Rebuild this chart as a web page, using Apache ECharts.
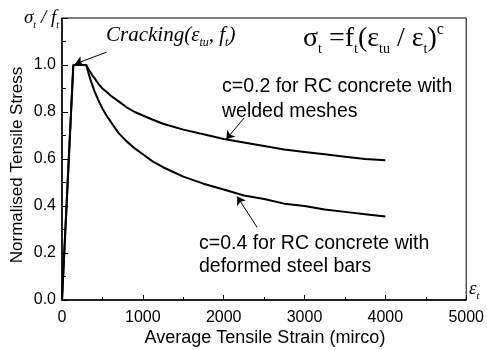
<!DOCTYPE html>
<html><head><meta charset="utf-8">
<script src="https://cdn.jsdelivr.net/npm/echarts@6/dist/echarts.min.js"></script>
<style>html,body{margin:0;padding:0;background:#fff}#c{width:487px;height:350px}</style>
</head><body><div id="c"></div>
<script>
// Data
const strain = [0, 140, 300, 325, 350, 375, 400, 450, 500, 550, 600, 700, 800, 900, 1000, 1125, 1250, 1500, 1750, 2000, 2250, 2500, 2750, 3000, 3250, 3500, 3750, 4000];
const stressWelded = [0, 1.0, 1.0, 0.984, 0.97, 0.956, 0.945, 0.92, 0.90, 0.886, 0.87, 0.845, 0.82, 0.80, 0.785, 0.767, 0.75, 0.725, 0.705, 0.685, 0.67, 0.655, 0.64, 0.63, 0.62, 0.61, 0.60, 0.595];
const stressDeformed = [0, 1.0, 1.0, 0.968, 0.94, 0.915, 0.89, 0.85, 0.815, 0.785, 0.76, 0.71, 0.675, 0.645, 0.62, 0.589, 0.565, 0.525, 0.495, 0.47, 0.445, 0.43, 0.41, 0.40, 0.385, 0.375, 0.365, 0.355];
const xTickLabels = ['0', '1000', '2000', '3000', '4000', '5000'];
const yTickLabels = ['0.0', '0.2', '0.4', '0.6', '0.8', '1.0', ''];

const chart = echarts.init(document.getElementById('c'), null, {renderer: 'canvas'});
const sans = 'Liberation Sans, Arial, sans-serif';
const serif = 'Liberation Serif, Times New Roman, serif';
const pair = (xs, ys) => xs.map((x, i) => [x, ys[i]]);
const arrow = (a, b) => [{coord: a, symbol: 'none'}, {coord: b, symbol: 'arrow'}];

const serRich = {
  a: {fontSize: 28, fontFamily: serif, fill: '#000', lineHeight: 34, verticalAlign: 'middle'},
  s: {fontSize: 14, fontFamily: serif, fill: '#000', verticalAlign: 'bottom', lineHeight: 16},
  p: {fontSize: 16, fontFamily: serif, fill: '#000', verticalAlign: 'top', lineHeight: 16}
};
const itRich = (fs) => ({
  a: {fontSize: fs, fontFamily: serif, fontStyle: 'italic', fill: '#000', lineHeight: fs + 6, verticalAlign: 'middle'},
  s: {fontSize: Math.round(fs * 0.55), fontFamily: serif, fontStyle: 'italic', fill: '#000', verticalAlign: 'bottom', lineHeight: Math.round(fs * 0.6)}
});
const note = {fontSize: 19.5, fontFamily: sans, fill: '#000'};

chart.setOption({
  animation: false,
  grid: {left: 62, right: 19, top: 18, bottom: 50, show: true, borderColor: '#000', borderWidth: 1},
  xAxis: {
    type: 'value', min: 0, max: 5000, interval: 1000,
    axisLine: {lineStyle: {color: '#000', width: 1.5}},
    axisTick: {inside: true, length: 5, lineStyle: {color: '#000'}},
    minorTick: {show: true, splitNumber: 2, length: 3, lineStyle: {color: '#000'}},
    splitLine: {show: false},
    axisLabel: {color: '#000', fontSize: 16, fontFamily: sans, margin: 10,
      formatter: (v) => xTickLabels[Math.round(v / 1000)]}
  },
  yAxis: {
    type: 'value', min: 0, max: 1.2, interval: 0.2,
    axisLine: {show: true, lineStyle: {color: '#000', width: 1.5}},
    axisTick: {show: true, inside: true, length: 6, lineStyle: {color: '#000'}},
    minorTick: {show: true, splitNumber: 2, length: 4, lineStyle: {color: '#000'}},
    splitLine: {show: false},
    axisLabel: {color: '#000', fontSize: 16, fontFamily: sans, margin: 6,
      formatter: (v) => yTickLabels[Math.round(v / 0.2)]}
  },
  series: [
    {type: 'line', data: pair(strain, stressWelded), showSymbol: false, symbol: 'none',
      lineStyle: {color: '#000', width: 2},
      markLine: {silent: true, symbolSize: 8, label: {show: false},
        lineStyle: {color: '#000', width: 1, type: 'solid'},
        data: [arrow([554, 1.055], [160, 1.004]), arrow([2254, 0.775], [2032, 0.684]), arrow([2414, 0.309], [2167, 0.440])]}
    },
    {type: 'line', data: pair(strain, stressDeformed), showSymbol: false, symbol: 'none',
      lineStyle: {color: '#000', width: 2}}
  ],
  graphic: [
    {type: 'text', left: 24, top: 8, style: {text: '{a|σ}{s|t}{a| / f}{s|t}', rich: itRich(19)}},
    {type: 'text', left: 106, top: 25, style: {text: '{a|Cracking(ε}{s|tu}{a|, f}{s|t}{a|)}', rich: itRich(21)}},
    {type: 'text', left: 303, top: 22, style: {text: '{a|σ}{s|t}{a| =f}{s|t}{a|(ε}{s|tu}{a| / ε}{s|t}{a|)}{p|c}', rich: serRich}},
    {type: 'text', left: 222, top: 77, style: Object.assign({text: 'c=0.2 for RC concrete with'}, note)},
    {type: 'text', left: 222, top: 102, style: Object.assign({text: 'welded meshes'}, note)},
    {type: 'text', left: 199, top: 234, style: Object.assign({text: 'c=0.4 for RC concrete with'}, note)},
    {type: 'text', left: 199, top: 257, style: Object.assign({text: 'deformed steel bars'}, note)},
    {type: 'text', left: 469, top: 279, style: {text: '{a|ε}{s|t}', rich: itRich(19)}},
    {type: 'text', x: 17, y: 165, rotation: Math.PI / 2, style: {text: 'Normalised Tensile Stress', fontSize: 17, fontFamily: sans, fill: '#000', align: 'center', verticalAlign: 'middle'}},
    {type: 'text', x: 265, y: 338, style: {text: 'Average Tensile Strain (mirco)', fontSize: 18, fontFamily: sans, fill: '#000', align: 'center', verticalAlign: 'middle'}}
  ]
});
</script></body></html>
